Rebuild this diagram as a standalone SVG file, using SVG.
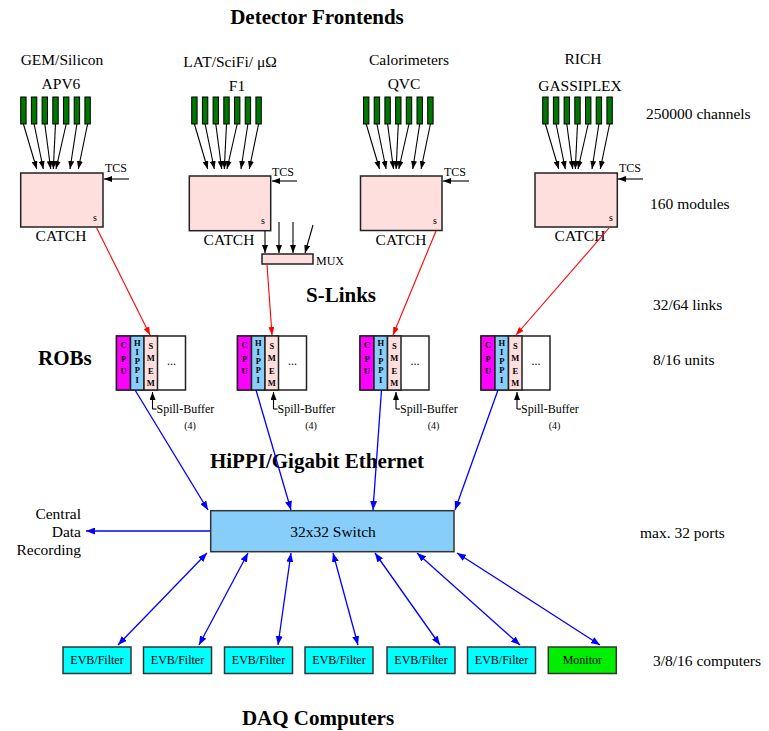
<svg xmlns="http://www.w3.org/2000/svg" width="769" height="731" viewBox="0 0 769 731">
<style>
text{font-family:"Liberation Serif","Times New Roman",serif;fill:#000}
.title{font-size:21px;font-weight:bold}
.lbl{font-size:15.5px}
.mid{text-anchor:middle}
.sm{font-size:12px}
.xs{font-size:10px}
.vl{font-size:8.5px;font-weight:bold;text-anchor:middle}
.bar{fill:#007700;stroke:#000;stroke-width:1}
.catch{fill:#ffdede;stroke:#222;stroke-width:1.5}
.k{stroke:#000;stroke-width:1.1;fill:none;marker-end:url(#ak)}
.r{stroke:#ff0000;stroke-width:1.1;fill:none;marker-end:url(#ar)}
.b{stroke:#0000ff;stroke-width:1.3;fill:none;marker-end:url(#ab)}
.bb{stroke:#0000ff;stroke-width:1.3;fill:none;marker-end:url(#ab);marker-start:url(#ab)}
.rob{stroke:#222;stroke-width:1.5}
.comp{fill:#00ffff;stroke:#333;stroke-width:1.5}
</style>
<defs>
<marker id="ak" markerUnits="userSpaceOnUse" markerWidth="8" markerHeight="6" refX="8" refY="3" orient="auto"><path d="M0,0 L8,3 L0,6 z" fill="#000"/></marker>
<marker id="ar" markerUnits="userSpaceOnUse" markerWidth="8" markerHeight="6" refX="8" refY="3" orient="auto"><path d="M0,0 L8,3 L0,6 z" fill="#ff0000"/></marker>
<marker id="ab" markerUnits="userSpaceOnUse" markerWidth="9" markerHeight="7" refX="9" refY="3.5" orient="auto-start-reverse"><path d="M0,0 L9,3.5 L0,7 z" fill="#0000ff"/></marker>
<g id="chips">
<rect class="bar" x="0" y="97" width="5.4" height="27"/>
<rect class="bar" x="10.7" y="97" width="5.4" height="27"/>
<rect class="bar" x="21.4" y="97" width="5.4" height="27"/>
<rect class="bar" x="32.1" y="97" width="5.4" height="27"/>
<rect class="bar" x="42.8" y="97" width="5.4" height="27"/>
<rect class="bar" x="53.5" y="97" width="5.4" height="27"/>
<rect class="bar" x="64.2" y="97" width="5.4" height="27"/>
<line class="k" x1="2.7" y1="124" x2="16" y2="169"/>
<line class="k" x1="13.4" y1="124" x2="22.6" y2="169"/>
<line class="k" x1="24.1" y1="124" x2="30" y2="169"/>
<line class="k" x1="34.8" y1="124" x2="32.6" y2="169"/>
<line class="k" x1="45.5" y1="124" x2="35.3" y2="169"/>
<line class="k" x1="56.2" y1="124" x2="49.3" y2="169"/>
<line class="k" x1="66.9" y1="124" x2="57.6" y2="169"/>
</g>
<g id="robbody">
<rect x="0" y="336" width="69" height="54" fill="#fff" class="rob"/>
<rect x="0" y="336" width="14" height="54" fill="#ff00ff" class="rob"/>
<rect x="14" y="336" width="13.5" height="54" fill="#87cefa" class="rob"/>
<rect x="27.5" y="336" width="13.5" height="54" fill="#ffdede" class="rob"/>
<text class="vl" x="7" y="348">C</text><text class="vl" x="7" y="362">P</text><text class="vl" x="7" y="374">U</text>
<text class="vl" x="20.75" y="346">H</text><text class="vl" x="20.75" y="355">I</text><text class="vl" x="20.75" y="364">P</text><text class="vl" x="20.75" y="373">P</text><text class="vl" x="20.75" y="383">I</text>
<text class="vl" x="34.25" y="348.5">S</text><text class="vl" x="34.25" y="361">M</text><text class="vl" x="34.25" y="374">E</text><text class="vl" x="34.25" y="386">M</text>
<text class="sm mid" x="55" y="365">...</text>
<line x1="36" y1="409" x2="36" y2="392" stroke="#000" stroke-width="1.1" marker-end="url(#ak)"/>
<line x1="36" y1="409" x2="40" y2="409" stroke="#000" stroke-width="1.1"/>
<text class="sm" x="40" y="413">Spill-Buffer</text>
<text class="xs mid" x="73.5" y="429">(4)</text>
</g>
</defs>

<text class="title mid" x="317" y="24">Detector Frontends</text>
<text class="title mid" x="341" y="302">S-Links</text>
<text class="title" x="38" y="365">ROBs</text>
<text class="title mid" x="317" y="468">HiPPI/Gigabit Ethernet</text>
<text class="title mid" x="318" y="725">DAQ Computers</text>

<text class="lbl" x="646" y="119">250000 channels</text>
<text class="lbl" x="650" y="209">160 modules</text>
<text class="lbl" x="653" y="310">32/64 links</text>
<text class="lbl" x="653" y="365">8/16 units</text>
<text class="lbl" x="640" y="538">max. 32 ports</text>
<text class="lbl" x="653" y="666">3/8/16 computers</text>

<g id="fe-gem">
<text class="lbl mid" x="62" y="65">GEM/Silicon</text>
<text class="lbl mid" x="61" y="89">APV6</text>
<use href="#chips" transform="translate(20.7,0)"/>
<rect class="catch" x="20.7" y="173" width="82.3" height="54"/>
<text class="xs" x="93" y="221">s</text>
<text class="lbl mid" x="61" y="241">CATCH</text>
<text class="sm" x="105" y="172">TCS</text>
<line class="k" x1="129" y1="179" x2="104" y2="179"/>
</g>

<g id="fe-lat">
<text class="lbl mid" x="230" y="67">LAT/SciFi/ μΩ</text>
<text class="lbl mid" x="237" y="91">F1</text>
<use href="#chips" transform="translate(191.7,0)"/>
<rect class="catch" x="189.3" y="176" width="81.4" height="54.7"/>
<text class="xs" x="261" y="224">s</text>
<text class="lbl mid" x="229" y="245">CATCH</text>
<text class="sm" x="272" y="176">TCS</text>
<line class="k" x1="297" y1="181" x2="272" y2="181"/>
</g>

<g id="mux">
<rect class="catch" x="262" y="254" width="51" height="10" stroke-width="1.3"/>
<text class="sm" x="316" y="265">MUX</text>
</g>

<g id="fe-cal">
<text class="lbl mid" x="409" y="65">Calorimeters</text>
<text class="lbl mid" x="404" y="89">QVC</text>
<use href="#chips" transform="translate(363.5,0)"/>
<rect class="catch" x="360.5" y="176" width="81.5" height="54.5"/>
<text class="xs" x="433" y="224">s</text>
<text class="lbl mid" x="401" y="245">CATCH</text>
<text class="sm" x="444" y="176">TCS</text>
<line class="k" x1="469" y1="181" x2="443" y2="181"/>
</g>

<g id="fe-rich">
<text class="lbl mid" x="583" y="64">RICH</text>
<text class="lbl mid" x="580" y="91">GASSIPLEX</text>
<use href="#chips" transform="translate(542.7,0)"/>
<rect class="catch" x="535" y="173" width="82.3" height="54"/>
<text class="xs" x="609" y="221">s</text>
<text class="lbl mid" x="580" y="241">CATCH</text>
<text class="sm" x="619" y="172">TCS</text>
<line class="k" x1="643" y1="179" x2="618" y2="179"/>
</g>

<g id="rob1"><use href="#robbody" transform="translate(116.5,0)"/></g>
<g id="rob2"><use href="#robbody" transform="translate(237.5,0)"/></g>
<g id="rob3"><use href="#robbody" transform="translate(360,0)"/></g>
<g id="rob4"><use href="#robbody" transform="translate(481,0)"/></g>

<g id="switch">
<rect x="210.7" y="510.7" width="243.3" height="41" fill="#87cefa" stroke="#333" stroke-width="1.5"/>
<text class="lbl mid" x="333" y="537">32x32 Switch</text>
</g>

<g id="cdr">
<text class="lbl" text-anchor="end" x="81" y="519">Central</text>
<text class="lbl" text-anchor="end" x="81" y="537">Data</text>
<text class="lbl" text-anchor="end" x="81" y="555">Recording</text>
</g>

<g id="pc1"><rect class="comp" x="63" y="647" width="68" height="26.5"/><text class="sm mid" x="97" y="664">EVB/Filter</text></g>
<g id="pc2"><rect class="comp" x="143.5" y="647" width="68" height="26.5"/><text class="sm mid" x="177.5" y="664">EVB/Filter</text></g>
<g id="pc3"><rect class="comp" x="224.5" y="647" width="68" height="26.5"/><text class="sm mid" x="258.5" y="664">EVB/Filter</text></g>
<g id="pc4"><rect class="comp" x="305" y="647" width="68" height="26.5"/><text class="sm mid" x="339" y="664">EVB/Filter</text></g>
<g id="pc5"><rect class="comp" x="387" y="647" width="68" height="26.5"/><text class="sm mid" x="421" y="664">EVB/Filter</text></g>
<g id="pc6"><rect class="comp" x="467.5" y="647" width="68" height="26.5"/><text class="sm mid" x="501.5" y="664">EVB/Filter</text></g>
<g id="monitor"><rect x="548.3" y="647" width="68" height="26.5" fill="#00ee00" stroke="#333" stroke-width="1.5"/><text class="sm mid" x="582.3" y="664">Monitor</text></g>

<g id="connectors">
<line class="k" x1="265" y1="231" x2="265" y2="253"/>
<line class="k" x1="279" y1="222" x2="279" y2="253"/>
<line class="k" x1="293" y1="222" x2="293" y2="253"/>
<line class="k" x1="313" y1="225" x2="305" y2="253"/>
<line class="r" x1="96.7" y1="228" x2="150" y2="335"/>
<line class="r" x1="267" y1="264.5" x2="272" y2="335"/>
<line class="r" x1="436" y1="231" x2="393" y2="335"/>
<line class="r" x1="609" y1="228" x2="516" y2="335"/>
<line class="b" x1="135" y1="390" x2="208" y2="510"/>
<line class="b" x1="256" y1="390" x2="291" y2="510"/>
<line class="b" x1="381.5" y1="390" x2="373" y2="510"/>
<line class="b" x1="498" y1="390" x2="455" y2="510"/>
<line class="b" x1="210" y1="531" x2="86" y2="531"/>
<line class="bb" x1="207" y1="553" x2="118" y2="645"/>
<line class="bb" x1="248" y1="553" x2="199" y2="645"/>
<line class="bb" x1="291" y1="553" x2="278" y2="645"/>
<line class="bb" x1="333" y1="553" x2="358" y2="645"/>
<line class="bb" x1="375" y1="553" x2="440" y2="645"/>
<line class="bb" x1="417" y1="553" x2="520" y2="645"/>
<line class="bb" x1="457" y1="553" x2="600" y2="645"/>
</g>
</svg>
